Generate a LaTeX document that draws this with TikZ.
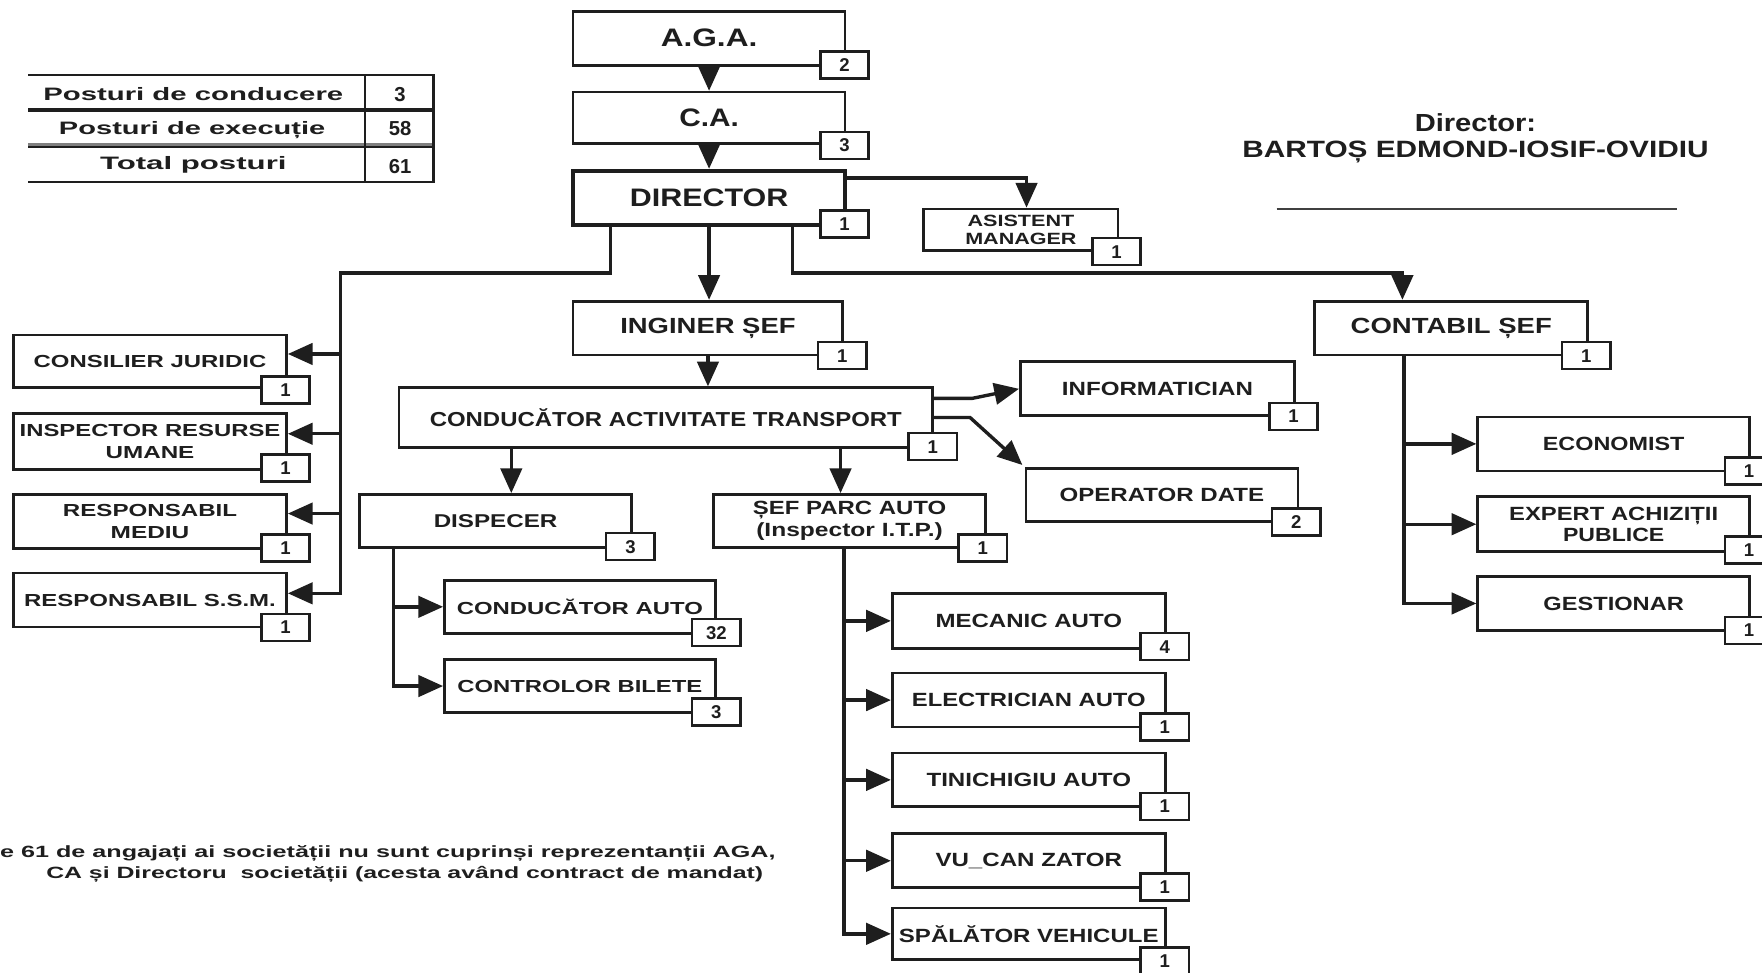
\documentclass[tikz,border=0pt]{standalone}
\usepackage{fontspec}
\setmainfont{Liberation Sans}
\usepackage{graphicx}
\usetikzlibrary{arrows.meta}
\definecolor{ink}{HTML}{1E1E1E}
\newcommand\tx[3]{\resizebox{#1pt}{\height}{\fontsize{#2}{#2}\selectfont\bfseries #3}}
\begin{document}
\begin{tikzpicture}[x=1pt,y=-1pt,
  box/.style={draw=ink, line width=2.4pt, fill=white, inner sep=0pt, text=ink},
  bx/.style 2 args={box, minimum width=#1pt, minimum height=#2pt},
  cnt/.style={draw=ink, line width=2.2pt, fill=white, inner sep=0pt, minimum width=43pt, minimum height=24pt, text=ink, font=\fontsize{16.5}{16.5}\selectfont\bfseries},
  wire/.style={draw=ink, line width=3pt},
  arr/.style={wire, -{Triangle[length=22pt,width=19pt]}},
  lbl/.style={inner sep=0pt, text=ink},
  two/.style={align=center, font=\fontsize{10}{#1}\selectfont}]
\clip (0,0) rectangle (1568,865);
\fill[white] (0,0) rectangle (1568,865);

% ---------- top chain ----------
\node[bx={242}{48}] (aga) at (631,34) {\tx{86}{22.5}{A.G.A.}};
\node[cnt] (agan) at (751.5,58) {2};
\node[bx={242}{46}] (ca) at (631,105) {\tx{53}{22.5}{C.A.}};
\node[cnt] (can) at (751.5,129.5) {3};
\node[bx={242}{48}, line width=3.5pt] (dir) at (631,176) {\tx{141}{22.5}{DIRECTOR}};
\node[cnt] (dirn) at (751.5,199.5) {1};
\node[bx={173}{37}, two=16] (asist) at (908.5,204.5) {\tx{95}{14.5}{ASISTENT}\\\tx{99}{14.5}{MANAGER}};
\node[cnt] (asistn) at (993.5,224) {1};

\node[bx={240}{48}] (ing) at (630,292) {\tx{156}{19.5}{INGINER ȘEF}};
\node[cnt] (ingn) at (749.5,316.5) {1};
\node[bx={243}{48}] (cont) at (1291.5,292) {\tx{179}{19.5}{CONTABIL ȘEF}};
\node[cnt] (contn) at (1411.5,316.5) {1};

% ---------- left column ----------
\node[bx={243}{47}] (cons) at (133.5,321.5) {\tx{207}{15.5}{CONSILIER JURIDIC}};
\node[cnt] (consn) at (254,347) {1};
\node[bx={243}{50}, two=19] (insp) at (133.5,393) {\tx{232}{15.5}{INSPECTOR RESURSE}\\\tx{79}{15.5}{UMANE}};
\node[cnt] (inspn) at (254,416.5) {1};
\node[bx={243}{48}, two=19] (med) at (133.5,464) {\tx{155}{15.5}{RESPONSABIL}\\\tx{70}{15.5}{MEDIU}};
\node[cnt] (medn) at (254,487.5) {1};
\node[bx={243}{48}] (ssm) at (133.5,534) {\tx{224}{15.5}{RESPONSABIL S.S.M.}};
\node[cnt] (ssmn) at (254,558.5) {1};

% ---------- transport ----------
\node[bx={475}{53}] (cat) at (592.5,371.5) {\tx{420}{18}{CONDUCĂTOR ACTIVITATE TRANSPORT}};
\node[cnt] (catn) at (830,397.5) {1};
\node[bx={244}{48}] (info) at (1030,346) {\tx{170}{17}{INFORMATICIAN}};
\node[cnt] (infon) at (1151,370.5) {1};
\node[bx={242}{47}] (opd) at (1034,440.5) {\tx{182}{17}{OPERATOR DATE}};
\node[cnt] (opdn) at (1153.5,464.5) {2};
\node[bx={242}{47}] (disp) at (441,463.5) {\tx{110}{16.5}{DISPECER}};
\node[cnt] (dispn) at (561,486.5) {3};
\node[bx={242}{47}, two=19] (spa) at (756,463.5) {\tx{172}{17}{ȘEF PARC AUTO}\\\tx{166}{17}{(Inspector I.T.P.)}};
\node[cnt] (span) at (874.5,487.5) {1};

\node[bx={241}{47}] (cauto) at (516,540) {\tx{219}{15.5}{CONDUCĂTOR AUTO}};
\node[cnt] (cauton) at (637.5,563) {32};
\node[bx={241}{47}] (ctrl) at (516,610.5) {\tx{218}{15.5}{CONTROLOR BILETE}};
\node[cnt] (ctrln) at (637.5,633.5) {3};

\node[bx={243}{49}] (mec) at (915.5,552.5) {\tx{166}{17}{MECANIC AUTO}};
\node[cnt] (mecn) at (1036.5,575.5) {4};
\node[bx={243}{48}] (elec) at (915.5,623) {\tx{208}{17}{ELECTRICIAN AUTO}};
\node[cnt] (elecn) at (1036.5,647) {1};
\node[bx={243}{48}] (tin) at (915.5,694) {\tx{182}{17}{TINICHIGIU AUTO}};
\node[cnt] (tinn) at (1036.5,717.5) {1};
\node[bx={243}{48}] (vul) at (915.5,766) {\tx{166}{17}{VU\_CAN ZATOR}};
\node[cnt] (vuln) at (1036.5,789.5) {1};
\node[bx={243}{46}] (spal) at (915.5,831) {\tx{231}{17}{SPĂLĂTOR VEHICULE}};
\node[cnt] (spaln) at (1036.5,855) {1};

% ---------- accounting ----------
\node[bx={242}{48}] (eco) at (1436,395) {\tx{126}{17}{ECONOMIST}};
\node[cnt] (econ) at (1556.5,419) {1};
\node[bx={242}{49}, two=19] (exp) at (1436,466.5) {\tx{186}{17}{EXPERT ACHIZIȚII}\\\tx{90}{17}{PUBLICE}};
\node[cnt] (expn) at (1556.5,489.5) {1};
\node[bx={242}{48}] (gest) at (1436,537) {\tx{125}{17}{GESTIONAR}};
\node[cnt] (gestn) at (1556.5,561) {1};

% ---------- connectors ----------
\draw[arr] (aga) -- (ca);
\draw[arr] (ca) -- (dir);
\draw[arr] ([yshift=-8pt]dir.north east) -| ([xshift=5pt]asist.north);
\draw[arr] (dir.south) -- (dir.south |- ing.north);

\coordinate (lb) at (303,243);
\coordinate (cj) at ([yshift=6.5pt]cons.east);
\coordinate (ir) at ([yshift=7pt]insp.east);
\coordinate (md) at ([yshift=7pt]med.east);
\coordinate (sm) at ([yshift=6pt]ssm.east);
\draw[arr] ([xshift=-88pt]dir.south) |- (lb) |- (sm);
\draw[arr] (lb |- cj) -- (cj);
\draw[arr] (lb |- ir) -- (ir);
\draw[arr] (lb |- md) -- (md);

\coordinate (rb) at (1248,243);
\draw[arr] ([xshift=74pt]dir.south) |- (rb) -- (rb |- cont.north);

\draw[arr] (ing.south) -- (ing.south |- cat.north);
\draw[arr] ([yshift=17pt]cat.east) -- ++(34,0) -- (info.west);
\draw[arr] (cat.east) -- ++(32,0) -- ([shift={(-2pt,2pt)}]opd.north west);

\coordinate (d1) at ([xshift=-137.5pt]cat.south);
\coordinate (d2) at ([xshift=155.5pt]cat.south);
\draw[arr] (d1) -- (d1 |- disp.north);
\draw[arr] (d2) -- (d2 |- spa.north);

\coordinate (db) at ([xshift=-91pt]disp.south);
\draw[arr] (db) |- (ctrl.west);
\draw[arr] (db |- cauto.west) -- (cauto.west);

\coordinate (pb) at ([xshift=-5pt]spa.south);
\draw[arr] (pb) |- (spal.west);
\foreach \n in {mec,elec,tin,vul} \draw[arr] (pb |- \n.west) -- (\n.west);

\coordinate (cb) at ([xshift=-42pt]cont.south);
\draw[arr] (cb) |- (gest.west);
\draw[arr] (cb |- eco.west) -- (eco.west);
\draw[arr] (cb |- exp.west) -- (exp.west);

% ---------- table ----------
\draw[ink, line width=1.6pt] (25,67) -- (387,67);
\draw[ink, line width=3pt] (25,98) -- (387,98);
\draw[gray, line width=2pt] (25,128.5) -- (387,128.5);
\draw[ink, line width=1.6pt] (25,131) -- (387,131);
\draw[ink, line width=1.6pt] (25,162) -- (387,162);
\draw[ink, line width=1.6pt] (325,67) -- (325,162);
\draw[ink, line width=2.4pt] (386,66) -- (386,163);
\node[lbl, anchor=base] (t1) at (172,89) {\tx{267}{16}{Posturi de conducere}};
\node[lbl, anchor=base, font=\fontsize{18}{18}\selectfont\bfseries] (t1n) at (356,90) {3};
\node[lbl, anchor=base] (t2) at (171,120) {\tx{237}{16}{Posturi de execuție}};
\node[lbl, anchor=base, font=\fontsize{18}{18}\selectfont\bfseries] (t2n) at (356,121) {58};
\node[lbl, anchor=base] (t3) at (172,151) {\tx{166}{16}{Total posturi}};
\node[lbl, anchor=base, font=\fontsize{18}{18}\selectfont\bfseries] (t3n) at (356,154) {61};

% ---------- signature ----------
\node[lbl, anchor=base] (dtitle) at (1313,117) {\tx{108}{22}{Director:}};
\node[lbl, anchor=base] (dname) at (1313,140) {\tx{415}{21}{BARTOȘ EDMOND-IOSIF-OVIDIU}};
\draw[ink!85, line width=1.4pt] (1136,186) -- (1492,186);

% ---------- note ----------
\node[lbl, anchor=base west] (note1) at (0,763) {\tx{690}{14.5}{e 61 de angajați ai societății nu sunt cuprinși reprezentanții AGA,}};
\node[lbl, anchor=base west] (note2) at (41,782) {\tx{638}{14.5}{CA și Directoru\ \ societății (acesta având contract de mandat)}};
\end{tikzpicture}
\end{document}
